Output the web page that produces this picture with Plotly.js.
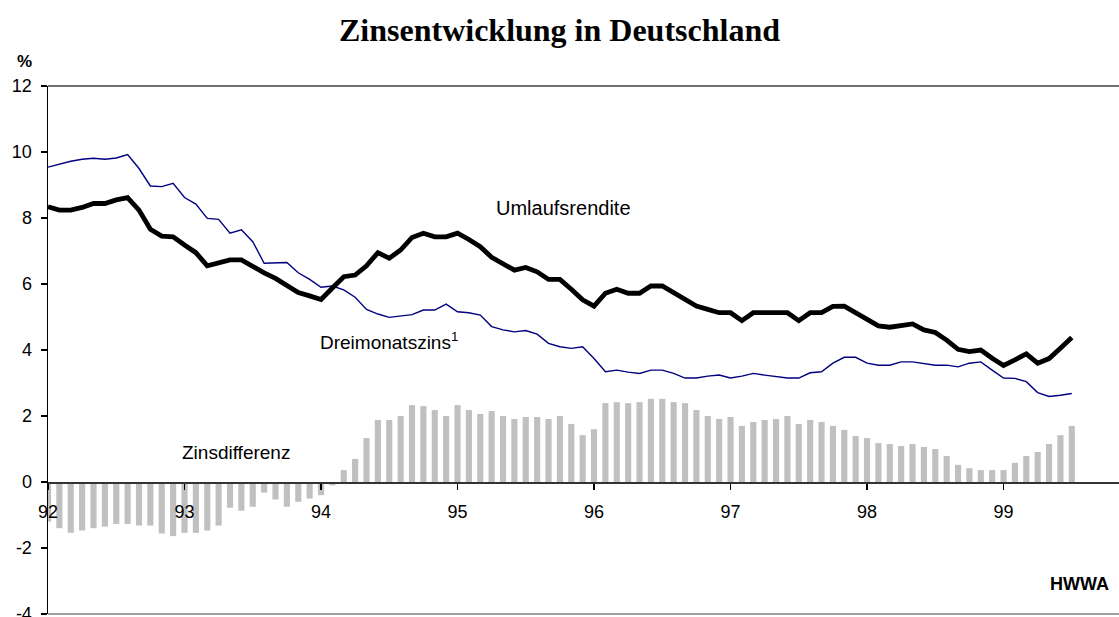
<!DOCTYPE html>
<html>
<head>
<meta charset="utf-8">
<script src="https://cdn.plot.ly/plotly-3.0.1.min.js"></script>
<style>html,body{margin:0;padding:0;background:#fff;}#chart{width:1119px;height:617px;}</style>
</head>
<body>
<div id="chart"></div>
<script>
// Monthly categories Jan 1992 .. Jul 1999
const years = [1992, 1993, 1994, 1995, 1996, 1997, 1998, 1999];
const yearLabels = ['92', '93', '94', '95', '96', '97', '98', '99'];
const months = [];
years.forEach(function (y) {
  for (let m = 1; m <= 12; m++) {
    if (y === 1999 && m > 7) break;
    months.push(y + '-' + (m < 10 ? '0' + m : m));
  }
});
const yearTicks = years.map(function (y) { return y + '-01'; });

// Value-axis tick labels
const yTickVals = [-4, -2, 0, 2, 4, 6, 8, 10, 12];
const yTickText = ['-4', '-2', '0', '2', '4', '6', '8', '10', '12'];

// Umlaufsrendite (%)
const umlaufsrendite = [
  8.34, 8.24, 8.24, 8.32, 8.44, 8.44, 8.55, 8.62, 8.24, 7.66, 7.45, 7.43,
  7.18, 6.95, 6.55, 6.65, 6.73, 6.73, 6.52, 6.34, 6.17, 5.97, 5.74, 5.64,
  5.53, 5.88, 6.22, 6.27, 6.55, 6.95, 6.78, 7.03, 7.41, 7.54, 7.43, 7.43,
  7.54, 7.35, 7.13, 6.81, 6.63, 6.42, 6.50, 6.37, 6.14, 6.14, 5.84, 5.52,
  5.33, 5.72, 5.84, 5.72, 5.72, 5.94, 5.94, 5.74, 5.52, 5.33, 5.23, 5.13,
  5.13, 4.89, 5.13, 5.13, 5.13, 5.13, 4.89, 5.13, 5.13, 5.32, 5.33, 5.13,
  4.93, 4.73, 4.69, 4.73, 4.79, 4.61, 4.53, 4.30, 4.02, 3.95, 4.00, 3.75,
  3.53, 3.70, 3.88, 3.60, 3.74, 4.05, 4.38
];

// Dreimonatszins (%)
const dreimonatszins = [
  9.54, 9.63, 9.72, 9.78, 9.81, 9.78, 9.82, 9.92, 9.50, 8.97, 8.95, 9.05,
  8.62, 8.42, 7.99, 7.96, 7.54, 7.64, 7.28, 6.63, 6.65, 6.65, 6.34, 6.14,
  5.90, 5.94, 5.82, 5.60, 5.23, 5.09, 4.99, 5.03, 5.07, 5.21, 5.21, 5.39,
  5.16, 5.13, 5.06, 4.71, 4.61, 4.55, 4.59, 4.48, 4.20, 4.10, 4.05, 4.10,
  3.74, 3.34, 3.39, 3.33, 3.29, 3.39, 3.39, 3.29, 3.15, 3.15, 3.21, 3.24,
  3.15, 3.21, 3.29, 3.24, 3.19, 3.15, 3.15, 3.31, 3.34, 3.60, 3.78, 3.78,
  3.60, 3.54, 3.54, 3.64, 3.64, 3.60, 3.54, 3.54, 3.49, 3.60, 3.64, 3.39,
  3.15, 3.14, 3.04, 2.71, 2.59, 2.63, 2.68
];

// Zinsdifferenz (%-Punkte)
const zinsdifferenz = [
  -1.20, -1.40, -1.54, -1.47, -1.40, -1.35, -1.27, -1.27, -1.32, -1.32, -1.56, -1.64,
  -1.54, -1.54, -1.47, -1.32, -0.78, -0.87, -0.75, -0.32, -0.53, -0.75, -0.60, -0.50,
  -0.40, -0.10, 0.36, 0.70, 1.33, 1.88, 1.88, 2.00, 2.33, 2.30, 2.18, 2.00,
  2.33, 2.18, 2.06, 2.15, 2.00, 1.91, 1.97, 1.97, 1.91, 2.00, 1.76, 1.42,
  1.60, 2.39, 2.42, 2.39, 2.42, 2.52, 2.52, 2.42, 2.39, 2.18, 2.00, 1.91,
  1.97, 1.70, 1.82, 1.88, 1.91, 2.00, 1.76, 1.88, 1.82, 1.70, 1.58, 1.39,
  1.33, 1.18, 1.15, 1.09, 1.15, 1.06, 1.00, 0.79, 0.52, 0.42, 0.36, 0.36,
  0.36, 0.58, 0.79, 0.91, 1.15, 1.42, 1.70
];

const FONT = 'Liberation Sans, Arial, sans-serif';
const XMAX = 94.15;

const traces = [
  {
    type: 'bar', x: months, y: zinsdifferenz, name: 'Zinsdifferenz',
    marker: { color: '#c0c0c0', line: { width: 0 } }
  },
  {
    type: 'scatter', mode: 'lines', x: months, y: dreimonatszins, name: 'Dreimonatszins',
    line: { color: '#000080', width: 1.4 }
  },
  {
    type: 'scatter', mode: 'lines', x: months, y: umlaufsrendite, name: 'Umlaufsrendite',
    line: { color: '#000000', width: 4.8 }
  }
];

const layout = {
  width: 1119, height: 617,
  margin: { l: 48, r: 0, t: 86, b: 3 },
  paper_bgcolor: '#ffffff', plot_bgcolor: '#ffffff',
  showlegend: false,
  bargap: 0.46,
  font: { family: FONT, color: '#000', size: 18 },
  title: {
    text: '<b>Zinsentwicklung in Deutschland</b>',
    font: { family: 'Liberation Serif, Times New Roman, serif', size: 32, color: '#000' },
    x: 0.5, xref: 'container', xanchor: 'center',
    y: 1 - 30 / 617, yref: 'container', yanchor: 'middle'
  },
  xaxis: {
    type: 'category', categoryorder: 'array', categoryarray: months,
    range: [0, XMAX], anchor: 'free', position: 0.25,
    showline: true, linecolor: '#333', linewidth: 1.5,
    ticks: 'outside', ticklen: 6, tickwidth: 1.5, tickcolor: '#000',
    tickmode: 'array', tickvals: yearTicks, ticktext: yearLabels,
    tickfont: { size: 18, family: FONT }, ticklabelstandoff: 7,
    showgrid: false, zeroline: false, fixedrange: true
  },
  xaxis2: {
    type: 'linear', overlaying: 'x', range: [0, XMAX], anchor: 'free', position: 0.25,
    showline: false, ticks: 'inside', ticklen: 6, tickwidth: 1.5, tickcolor: '#000',
    tickmode: 'array', tickvals: [0, 12, 24, 36, 48, 60, 72, 84],
    showticklabels: false, showgrid: false, zeroline: false
  },
  yaxis: {
    range: [-4, 12], tickmode: 'array', tickvals: yTickVals, ticktext: yTickText,
    showline: true, linecolor: '#000', linewidth: 1.5,
    ticks: 'outside', ticklen: 6, tickwidth: 1.2, tickcolor: '#000',
    tickfont: { size: 18, family: FONT }, ticklabelstandoff: 5,
    ticklabeloverflow: 'allow',
    showgrid: false, zeroline: false, fixedrange: true
  },
  yaxis2: {
    overlaying: 'y', range: [-4, 12], tickmode: 'array', tickvals: yTickVals,
    anchor: 'x', side: 'left',
    showline: false, ticks: 'inside', ticklen: 6, tickwidth: 1.2, tickcolor: '#000',
    showticklabels: false, showgrid: false, zeroline: false
  },
  shapes: [
    { type: 'line', xref: 'paper', yref: 'paper', x0: 0, x1: 1, y0: 1, y1: 1,
      line: { color: '#404040', width: 1.5 } },
    { type: 'line', xref: 'paper', yref: 'paper', x0: 0, x1: 1, y0: 0, y1: 0,
      line: { color: '#808080', width: 1.5 } }
  ],
  annotations: [
    { text: 'Umlaufsrendite', xref: 'paper', yref: 'paper', x: 0.4164, y: 0.769,
      xanchor: 'left', yanchor: 'middle', showarrow: false, font: { size: 20, family: FONT } },
    { text: 'Dreimonatszins<sup>1</sup>', xref: 'paper', yref: 'paper', x: 0.2521, y: 0.517,
      xanchor: 'left', yanchor: 'middle', showarrow: false, font: { size: 19, family: FONT } },
    { text: 'Zinsdifferenz', xref: 'paper', yref: 'paper', x: 0.1232, y: 0.305,
      xanchor: 'left', yanchor: 'middle', showarrow: false, font: { size: 19, family: FONT } },
    { text: '<b>HWWA</b>', xref: 'paper', yref: 'paper', x: 0.9925, y: 0.0568,
      xanchor: 'right', yanchor: 'middle', showarrow: false, font: { size: 18, family: FONT } },
    { text: '<b>%</b>', xref: 'paper', yref: 'paper', x: -0.0224, y: 1.047,
      xanchor: 'center', yanchor: 'middle', showarrow: false, font: { size: 17, family: FONT } }
  ]
};

Plotly.newPlot('chart', traces, layout, { displayModeBar: false, staticPlot: true });
</script>
</body>
</html>
